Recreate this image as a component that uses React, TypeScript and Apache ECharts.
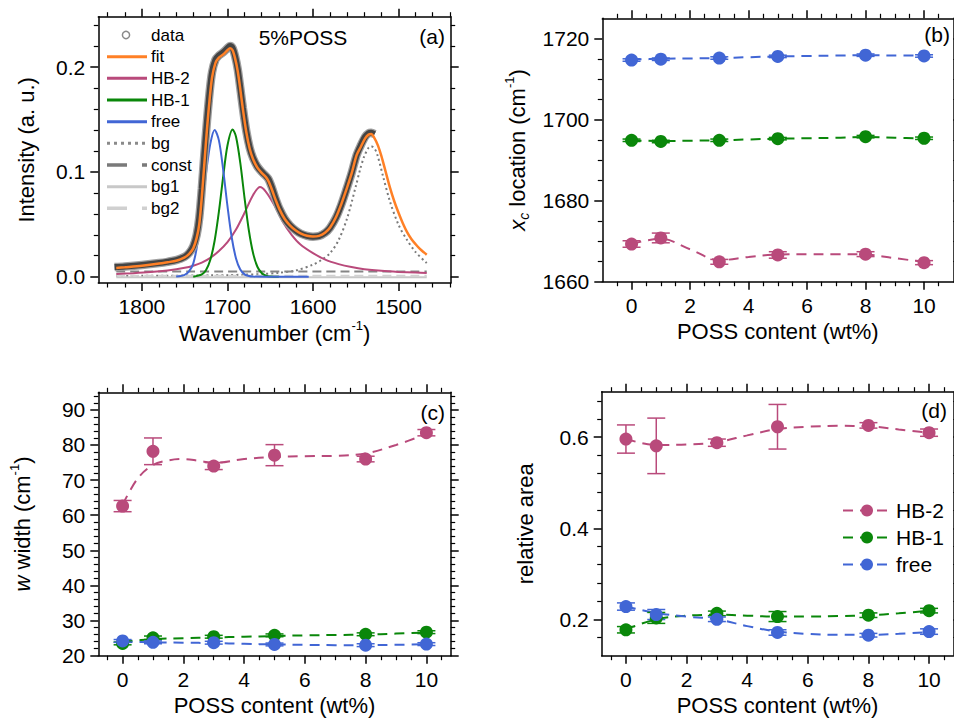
import React, { useEffect, useRef } from "react";
import * as echarts from "echarts";

const FONT = "'Liberation Sans', Arial, Helvetica, sans-serif";
const C_HB2 = "#b94a7b";
const C_HB1 = "#0a870a";
const C_FREE = "#4166d5";
const C_FIT = "#ff8026";

// ---------- panel (a): spectrum of 5%POSS ----------
const A_X_TICKS = [1500, 1600, 1700, 1800];
const A_Y_TICKS = [0, 0.1, 0.2];

const DATA_WN = [1832, 1820, 1800, 1780, 1770, 1760, 1750, 1745, 1740, 1736, 1733, 1730, 1727, 1724, 1721, 1718, 1714, 1710, 1705, 1700, 1697, 1694, 1691, 1688, 1685, 1682, 1678, 1674, 1670, 1665, 1660, 1655, 1652, 1648, 1644, 1639, 1633, 1627, 1620, 1614, 1607, 1600, 1593, 1586, 1580, 1573, 1567, 1561, 1555, 1549, 1544, 1539, 1535, 1532, 1528];
const DATA_INT = [0.0092, 0.0098, 0.0112, 0.0130, 0.0142, 0.0158, 0.0190, 0.0225, 0.0290, 0.0400, 0.0560, 0.0840, 0.1170, 0.1480, 0.1750, 0.1950, 0.2070, 0.2110, 0.2140, 0.2180, 0.2200, 0.2180, 0.2100, 0.1980, 0.1800, 0.1610, 0.1390, 0.1230, 0.1130, 0.1050, 0.1000, 0.0960, 0.0930, 0.0850, 0.0750, 0.0645, 0.0552, 0.0490, 0.0440, 0.0410, 0.0390, 0.0382, 0.0388, 0.0418, 0.0468, 0.0565, 0.0685, 0.0830, 0.0985, 0.1160, 0.1255, 0.1335, 0.1368, 0.1372, 0.1360];

const FIT_WN = [1830, 1820, 1800, 1780, 1770, 1760, 1750, 1745, 1740, 1736, 1733, 1730, 1727, 1724, 1721, 1718, 1714, 1710, 1705, 1700, 1697, 1694, 1691, 1688, 1685, 1682, 1678, 1674, 1670, 1665, 1660, 1655, 1652, 1648, 1644, 1639, 1633, 1627, 1620, 1614, 1607, 1600, 1593, 1586, 1580, 1573, 1567, 1561, 1555, 1549, 1544, 1539, 1535, 1532, 1528, 1524, 1520, 1515, 1510, 1505, 1500, 1495, 1490, 1485, 1480, 1475, 1470, 1467];
const FIT_INT = [0.0083, 0.0090, 0.0105, 0.0125, 0.0138, 0.0152, 0.0185, 0.0215, 0.0270, 0.0370, 0.0500, 0.0760, 0.1080, 0.1400, 0.1680, 0.1900, 0.2040, 0.2090, 0.2120, 0.2160, 0.2180, 0.2160, 0.2080, 0.1960, 0.1790, 0.1600, 0.1380, 0.1220, 0.1120, 0.1040, 0.0990, 0.0950, 0.0910, 0.0830, 0.0740, 0.0640, 0.0550, 0.0490, 0.0440, 0.0410, 0.0390, 0.0383, 0.0390, 0.0420, 0.0470, 0.0570, 0.0690, 0.0830, 0.0980, 0.1160, 0.1240, 0.1320, 0.1355, 0.1360, 0.1320, 0.1250, 0.1150, 0.1000, 0.0850, 0.0720, 0.0610, 0.0510, 0.0425, 0.0360, 0.0310, 0.0265, 0.0230, 0.0210];

const HB2_WN = [1830, 1810, 1790, 1770, 1750, 1740, 1730, 1720, 1710, 1700, 1690, 1680, 1670, 1662, 1655, 1645, 1635, 1625, 1615, 1600, 1585, 1570, 1555, 1540, 1520, 1500, 1480, 1467];
const HB2_INT = [0.0027, 0.0034, 0.0044, 0.0060, 0.0085, 0.0105, 0.0135, 0.0180, 0.0245, 0.0330, 0.0450, 0.0610, 0.0780, 0.0855, 0.0810, 0.0680, 0.0520, 0.0400, 0.0310, 0.0225, 0.0160, 0.0120, 0.0092, 0.0072, 0.0056, 0.0046, 0.0039, 0.0035];

const HB1_WN = [1740, 1730, 1725, 1720, 1715, 1710, 1705, 1700, 1694, 1690, 1685, 1680, 1675, 1670, 1665, 1660, 1655, 1650, 1640];
const HB1_INT = [0.0, 0.0022, 0.0065, 0.0162, 0.0343, 0.0620, 0.0954, 0.1252, 0.1405, 0.1335, 0.1085, 0.0750, 0.0443, 0.0223, 0.0095, 0.0035, 0.0011, 0.0002, 0.0];

const FREE_WN = [1760, 1750, 1745, 1740, 1735, 1730, 1725, 1720, 1715, 1710, 1705, 1700, 1695, 1690, 1685, 1680, 1675, 1670, 1640, 1605];
const FREE_INT = [0.0001, 0.0018, 0.0050, 0.0125, 0.0320, 0.0650, 0.0990, 0.1270, 0.1400, 0.1300, 0.1020, 0.0675, 0.0374, 0.0174, 0.0068, 0.0022, 0.0006, 0.0001, 0.0, 0.0];

const BG_WN = [1830, 1800, 1760, 1720, 1700, 1680, 1660, 1640, 1620, 1600, 1590, 1580, 1570, 1560, 1550, 1545, 1540, 1535, 1532, 1528, 1525, 1518, 1510, 1500, 1490, 1480, 1467];
const BG_INT = [0.0007, 0.0008, 0.0010, 0.0013, 0.0015, 0.0020, 0.0025, 0.0037, 0.0060, 0.0115, 0.0160, 0.0225, 0.0350, 0.0560, 0.0860, 0.1020, 0.1150, 0.1230, 0.1245, 0.1220, 0.1170, 0.0955, 0.0717, 0.0495, 0.0350, 0.0235, 0.0130];

const CONST_WN = [1830, 1467];
const CONST_INT = [0.005, 0.005];
const BG1_INT = [-0.0004, -0.0004];
const BG2_INT = [0.0009, 0.0009];

// ---------- panels (b)-(d): fit parameters vs POSS content ----------
const POSS = [0, 1, 3, 5, 8, 10];
const POSS_TICKS = [0, 2, 4, 6, 8, 10];
const TREND_X = [0, 1, 2, 3, 4, 5, 6, 7, 8, 9, 10];

const XC_TICKS = [1660, 1680, 1700, 1720];
const XC_HB2 = [1669.3, 1670.8, 1664.9, 1666.6, 1666.8, 1664.7];
const XC_HB2_ERR = [0.8, 1.2, 0.6, 0.8, 0.6, 0.5];
const XC_HB1 = [1694.9, 1694.6, 1694.9, 1695.3, 1695.8, 1695.4];
const XC_HB1_ERR = [0.3, 0.3, 0.3, 0.3, 0.3, 0.3];
const XC_FREE = [1714.7, 1714.9, 1715.2, 1715.6, 1715.9, 1715.7];
const XC_FREE_ERR = [0.3, 0.3, 0.3, 0.3, 0.3, 0.3];
const XC_HB2_TREND = [1669.3, 1670.6, 1668.0, 1665.3, 1666.1, 1666.7, 1666.8, 1666.8, 1666.7, 1665.8, 1664.9];
const XC_HB1_TREND = [1694.9, 1694.7, 1694.8, 1694.9, 1695.1, 1695.3, 1695.4, 1695.5, 1695.7, 1695.5, 1695.4];
const XC_FREE_TREND = [1714.8, 1715.0, 1715.1, 1715.2, 1715.4, 1715.6, 1715.7, 1715.8, 1715.9, 1715.8, 1715.8];

const W_TICKS = [20, 30, 40, 50, 60, 70, 80, 90];
const W_HB2 = [62.6, 78.2, 74.0, 77.1, 76.0, 83.5];
const W_HB2_ERR = [1.6, 3.8, 1.0, 3.0, 0.8, 0.9];
const W_HB1 = [23.5, 25.1, 25.4, 25.8, 26.1, 26.7];
const W_HB1_ERR = [0.4, 0.5, 0.4, 0.4, 0.4, 0.4];
const W_FREE = [24.2, 23.8, 23.7, 23.2, 23.0, 23.3];
const W_FREE_ERR = [0.4, 0.4, 0.4, 0.4, 0.4, 0.4];
const W_HB2_TREND_X = [0, 0.5, 1, 1.5, 2, 2.5, 3, 4, 5, 6, 7, 8, 9, 10];
const W_HB2_TREND = [63.0, 70.5, 74.3, 75.6, 76.0, 75.5, 74.9, 76.0, 76.6, 76.8, 76.9, 77.6, 80.0, 83.1];
const W_HB1_TREND = [24.0, 24.7, 25.0, 25.2, 25.4, 25.6, 25.8, 25.9, 26.0, 26.3, 26.6];
const W_FREE_TREND = [24.0, 23.8, 23.7, 23.6, 23.4, 23.2, 23.1, 23.0, 23.0, 23.1, 23.3];

const AREA_TICKS = [0.2, 0.4, 0.6];
const AR_HB2 = [0.596, 0.581, 0.588, 0.623, 0.626, 0.610];
const AR_HB2_ERR = [0.031, 0.061, 0.008, 0.049, 0.006, 0.008];
const AR_HB1 = [0.177, 0.203, 0.213, 0.206, 0.209, 0.219];
const AR_HB1_ERR = [0.007, 0.012, 0.005, 0.011, 0.005, 0.005];
const AR_FREE = [0.228, 0.2105, 0.200, 0.171, 0.165, 0.173];
const AR_FREE_ERR = [0.008, 0.011, 0.005, 0.006, 0.004, 0.006];
const AR_HB2_TREND = [0.596, 0.583, 0.584, 0.589, 0.604, 0.618, 0.623, 0.625, 0.624, 0.617, 0.610];
const AR_HB1_TREND = [0.178, 0.200, 0.208, 0.210, 0.208, 0.206, 0.206, 0.207, 0.209, 0.213, 0.219];
const AR_FREE_TREND = [0.228, 0.214, 0.206, 0.200, 0.185, 0.173, 0.168, 0.166, 0.166, 0.168, 0.172];

// ---------- helpers ----------
const RICH = {
  t: { fontSize: 22, fontFamily: FONT, color: "#000", lineHeight: 28 },
  i: { fontSize: 22, fontFamily: FONT, color: "#000", lineHeight: 28, fontStyle: "italic" },
  sup: { fontSize: 13, fontFamily: FONT, color: "#000", lineHeight: 13, verticalAlign: "top" },
  sub: { fontSize: 14, fontFamily: FONT, color: "#000", lineHeight: 14, verticalAlign: "bottom", fontStyle: "italic" },
};

type Spec = {
  min: number; max: number; split: number; minor: number; ticks: number[];
  inverse?: boolean; fmt?: (v: number) => string; name: string; nameGap: number;
};

const plain = (v: number) => String(v);

function axisPair(kind: "x" | "y", gi: number, s: Spec) {
  const common: any = {
    type: "value",
    gridIndex: gi,
    min: s.min,
    max: s.max,
    splitNumber: s.split,
    inverse: !!s.inverse,
    axisLine: { show: true, onZero: false, lineStyle: { color: "#000", width: 1.5 } },
    axisTick: { show: true, inside: false, length: 8, customValues: s.ticks, lineStyle: { color: "#000", width: 1.5 } },
    minorTick: { show: true, splitNumber: s.minor, length: 4.5, lineStyle: { color: "#000", width: 1.2 } },
    splitLine: { show: false },
    minorSplitLine: { show: false },
  };
  const label: any = {
    show: true, customValues: s.ticks, margin: 13, fontSize: 21, color: "#000", fontFamily: FONT,
    formatter: s.fmt || plain,
  };
  const main = {
    ...common,
    position: kind === "x" ? "bottom" : "left",
    axisLabel: label,
    name: s.name,
    nameLocation: "middle",
    nameGap: s.nameGap,
    nameTextStyle: { fontSize: 22, fontFamily: FONT, color: "#000", rich: RICH },
  };
  const mirror = { ...common, position: kind === "x" ? "top" : "right", axisLabel: { show: false } };
  return [main, mirror];
}

const pairs = (xs: number[], ys: number[]) => xs.map((x, i) => [x, ys[i]]);

// gi = grid index; the bottom/left axes of grid gi have index 2*gi
function curve(name: string, xs: number[], ys: number[], color: string, width: number, type: any, gi: number, z = 2) {
  return {
    type: "line", name, xAxisIndex: 2 * gi, yAxisIndex: 2 * gi, data: pairs(xs, ys),
    symbol: "none", smooth: 0.3, silent: true, z,
    lineStyle: { color, width, type },
    itemStyle: { color },
  };
}

function trend(name: string, xs: number[], ys: number[], color: string, gi: number) {
  return {
    type: "line", name, xAxisIndex: 2 * gi, yAxisIndex: 2 * gi, data: pairs(xs, ys),
    symbol: "circle", symbolSize: 13, showSymbol: false, smooth: 0.35, silent: true, z: 2,
    lineStyle: { color, width: 2, type: [10, 7] },
    itemStyle: { color },
  };
}

function errBars(name: string, xs: number[], ys: number[], es: number[], color: string, gi: number) {
  return {
    type: "custom", name, xAxisIndex: 2 * gi, yAxisIndex: 2 * gi, silent: true, z: 3,
    data: xs.map((x, i) => [x, ys[i] - es[i], ys[i] + es[i]]),
    encode: { x: 0, y: [1, 2] },
    renderItem: (_p: any, api: any) => {
      const x = api.value(0);
      const lo = api.coord([x, api.value(1)]);
      const hi = api.coord([x, api.value(2)]);
      const hw = 9;
      const style = { stroke: color, lineWidth: 1.5, fill: "none" };
      return {
        type: "group",
        children: [
          { type: "line", shape: { x1: lo[0], y1: lo[1], x2: hi[0], y2: hi[1] }, style },
          { type: "line", shape: { x1: lo[0] - hw, y1: lo[1], x2: lo[0] + hw, y2: lo[1] }, style },
          { type: "line", shape: { x1: hi[0] - hw, y1: hi[1], x2: hi[0] + hw, y2: hi[1] }, style },
        ],
      };
    },
  };
}

function points(name: string, xs: number[], ys: number[], color: string, gi: number) {
  return {
    type: "scatter", name, xAxisIndex: 2 * gi, yAxisIndex: 2 * gi, data: pairs(xs, ys),
    symbol: "circle", symbolSize: 13, silent: true, z: 4,
    itemStyle: { color, opacity: 1 },
  };
}

function paramPanel(gi: number, tag: string, sets: { key: string; legendName: string; y: number[]; e: number[]; tx: number[]; ty: number[]; color: string }[]) {
  const out: any[] = [];
  sets.forEach((s) => {
    out.push(trend(s.legendName, s.tx, s.ty, s.color, gi));
    out.push(errBars(`${tag}-${s.key}-err`, POSS, s.y, s.e, s.color, gi));
    out.push(points(`${tag}-${s.key}-pts`, POSS, s.y, s.color, gi));
  });
  return out;
}

// ---------- option ----------
const f1 = (v: number) => v.toFixed(1);

const axA = { x: axisPair("x", 0, { min: 1439, max: 1851, split: 5, minor: 5, ticks: A_X_TICKS, inverse: true, name: "{t|Wavenumber (cm}{sup|-1}{t|)}", nameGap: 36 }),
              y: axisPair("y", 0, { min: -0.006, max: 0.248, split: 3, minor: 5, ticks: A_Y_TICKS, fmt: f1, name: "{t|Intensity (a. u.)}", nameGap: 58 }) };
const axB = { x: axisPair("x", 1, { min: -1, max: 11, split: 6, minor: 4, ticks: POSS_TICKS, name: "{t|POSS content (wt%)}", nameGap: 36 }),
              y: axisPair("y", 1, { min: 1660, max: 1725, split: 3, minor: 4, ticks: XC_TICKS, name: "{i|x}{sub|c}{t| location (cm}{sup|-1}{t|)}", nameGap: 71 }) };
const axC = { x: axisPair("x", 2, { min: -0.8, max: 10.8, split: 6, minor: 4, ticks: POSS_TICKS, name: "{t|POSS content (wt%)}", nameGap: 36 }),
              y: axisPair("y", 2, { min: 20, max: 95, split: 8, minor: 5, ticks: W_TICKS, name: "{i|w}{t| width (cm}{sup|-1}{t|)}", nameGap: 62 }) };
const axD = { x: axisPair("x", 3, { min: -0.8, max: 10.8, split: 6, minor: 4, ticks: POSS_TICKS, name: "{t|POSS content (wt%)}", nameGap: 36 }),
              y: axisPair("y", 3, { min: 0.12, max: 0.7, split: 3, minor: 5, ticks: AREA_TICKS, fmt: f1, name: "{t|relative area}", nameGap: 62 }) };

const LEG_Y = [35, 56.7, 78.3, 100, 121.7, 143.3, 165, 186.7, 208.3];
const LEG_X1 = 107;
const LEG_X2 = 147;
const legendRows: { label: string; stroke: string; width: number; dash?: number[]; circle?: boolean }[] = [
  { label: "data", stroke: "#8a8a8a", width: 1.5, circle: true },
  { label: "fit", stroke: C_FIT, width: 3 },
  { label: "HB-2", stroke: C_HB2, width: 3 },
  { label: "HB-1", stroke: C_HB1, width: 3 },
  { label: "free", stroke: C_FREE, width: 3 },
  { label: "bg", stroke: "#8a8a8a", width: 3, dash: [3, 4] },
  { label: "const", stroke: "#7a7a7a", width: 3.5, dash: [20, 15] },
  { label: "bg1", stroke: "#c8c8c8", width: 3 },
  { label: "bg2", stroke: "#d0d0d0", width: 3.5, dash: [20, 15] },
];

const graphicEls: any[] = [];
legendRows.forEach((r, i) => {
  const y = LEG_Y[i];
  if (r.circle) {
    graphicEls.push({ type: "circle", z: 20, shape: { cx: 126, cy: y, r: 3.6 }, style: { fill: "#fff", stroke: r.stroke, lineWidth: r.width } });
  } else {
    graphicEls.push({ type: "line", z: 20, shape: { x1: LEG_X1, y1: y, x2: LEG_X2, y2: y }, style: { stroke: r.stroke, lineWidth: r.width, lineDash: r.dash || null } });
  }
  graphicEls.push({ type: "text", z: 20, x: 151, y, style: { text: r.label, fontSize: 17, fontFamily: FONT, fill: "#000", align: "left", verticalAlign: "middle" } });
});
const panelTexts = [
  { text: "5%POSS", x: 303, y: 37, align: "center" },
  { text: "(a)", x: 445, y: 36, align: "right" },
  { text: "(b)", x: 950, y: 34, align: "right" },
  { text: "(c)", x: 445, y: 412, align: "right" },
  { text: "(d)", x: 947, y: 410, align: "right" },
];
panelTexts.forEach((p) => {
  graphicEls.push({ type: "text", z: 20, x: p.x, y: p.y, style: { text: p.text, fontSize: 21, fontFamily: FONT, fill: "#000", align: p.align, verticalAlign: "middle" } });
});

const seriesA = [
  curve("bg", BG_WN, BG_INT, "#7a7a7a", 2, [2, 3], 0, 2),
  curve("const", CONST_WN, CONST_INT, "#858585", 2, [9, 5], 0, 2),
  curve("bg1", CONST_WN, BG1_INT, "#c8c8c8", 2, "solid", 0, 2),
  curve("bg2", CONST_WN, BG2_INT, "#d2d2d2", 2, [9, 5], 0, 2),
  curve("HB-2 component", HB2_WN, HB2_INT, C_HB2, 2, "solid", 0, 3),
  curve("HB-1 component", HB1_WN, HB1_INT, C_HB1, 2, "solid", 0, 3),
  curve("free component", FREE_WN, FREE_INT, C_FREE, 2, "solid", 0, 3),
  curve("data halo", DATA_WN, DATA_INT, "#a0a0a0", 8.5, "solid", 0, 4),
  curve("data", DATA_WN, DATA_INT, "#444444", 6, "solid", 0, 5),
  curve("fit", FIT_WN, FIT_INT, C_FIT, 2.5, "solid", 0, 6),
];

const seriesB = paramPanel(1, "b", [
  { key: "hb2", legendName: "b HB-2 trend", y: XC_HB2, e: XC_HB2_ERR, tx: TREND_X, ty: XC_HB2_TREND, color: C_HB2 },
  { key: "hb1", legendName: "b HB-1 trend", y: XC_HB1, e: XC_HB1_ERR, tx: TREND_X, ty: XC_HB1_TREND, color: C_HB1 },
  { key: "free", legendName: "b free trend", y: XC_FREE, e: XC_FREE_ERR, tx: TREND_X, ty: XC_FREE_TREND, color: C_FREE },
]);
const seriesC = paramPanel(2, "c", [
  { key: "hb2", legendName: "c HB-2 trend", y: W_HB2, e: W_HB2_ERR, tx: W_HB2_TREND_X, ty: W_HB2_TREND, color: C_HB2 },
  { key: "hb1", legendName: "c HB-1 trend", y: W_HB1, e: W_HB1_ERR, tx: TREND_X, ty: W_HB1_TREND, color: C_HB1 },
  { key: "free", legendName: "c free trend", y: W_FREE, e: W_FREE_ERR, tx: TREND_X, ty: W_FREE_TREND, color: C_FREE },
]);
const seriesD = paramPanel(3, "d", [
  { key: "hb2", legendName: "HB-2", y: AR_HB2, e: AR_HB2_ERR, tx: TREND_X, ty: AR_HB2_TREND, color: C_HB2 },
  { key: "hb1", legendName: "HB-1", y: AR_HB1, e: AR_HB1_ERR, tx: TREND_X, ty: AR_HB1_TREND, color: C_HB1 },
  { key: "free", legendName: "free", y: AR_FREE, e: AR_FREE_ERR, tx: TREND_X, ty: AR_FREE_TREND, color: C_FREE },
]);

const option: any = {
  animation: false,
  backgroundColor: "#fff",
  textStyle: { fontFamily: FONT },
  grid: [
    { left: 98.3, top: 16.7, width: 352.4, height: 266.3 },
    { left: 602.3, top: 18.3, width: 351, height: 263.4 },
    { left: 98.3, top: 392.3, width: 352.4, height: 263.4 },
    { left: 601.7, top: 391.7, width: 351.6, height: 264 },
  ],
  xAxis: [...axA.x, ...axB.x, ...axC.x, ...axD.x],
  yAxis: [...axA.y, ...axB.y, ...axC.y, ...axD.y],
  legend: {
    show: true,
    data: ["HB-2", "HB-1", "free"],
    orient: "vertical",
    left: 837,
    top: 495,
    itemWidth: 48,
    itemHeight: 15,
    itemGap: 6,
    selectedMode: false,
    textStyle: { fontSize: 21, fontFamily: FONT, color: "#000" },
  },
  graphic: { elements: graphicEls },
  series: [...seriesA, ...seriesB, ...seriesC, ...seriesD],
};

export default function App() {
  const ref = useRef<HTMLDivElement>(null);
  useEffect(() => {
    if (!ref.current) return;
    const chart = echarts.init(ref.current, null, { renderer: "svg" });
    chart.setOption(option);
    return () => chart.dispose();
  }, []);
  return (
    <div
      ref={ref}
      style={{ position: "absolute", left: 0, top: 0, width: 954, height: 718, background: "#fff" }}
    />
  );
}
